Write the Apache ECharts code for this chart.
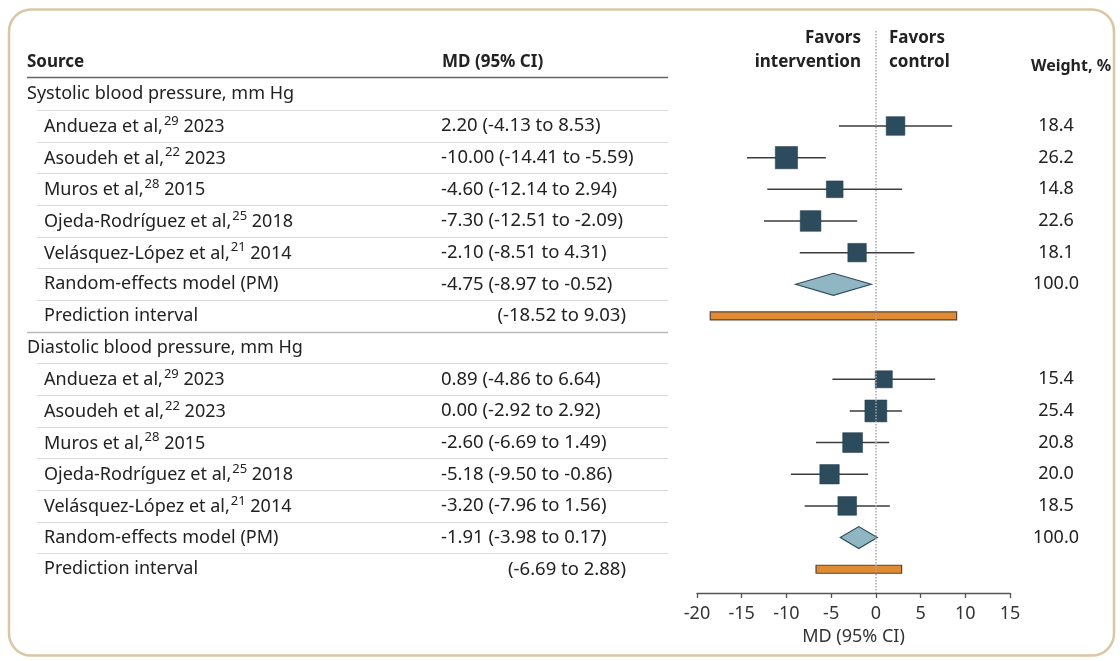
<!DOCTYPE html>
<html><head><meta charset="utf-8">
<script src="https://cdn.jsdelivr.net/npm/echarts@6/dist/echarts.min.js"></script>
<style>html,body{margin:0;padding:0;background:#fff}#c{width:1120px;height:661px}</style>
</head><body><div id="c"></div>
<script>
// ---------- data ----------
const studyNames = ["Andueza et al,", "Asoudeh et al,", "Muros et al,", "Ojeda-Rodríguez et al,", "Velásquez-López et al,"];
const sbpRefs = ["29", "22", "28", "25", "21"];
const dbpRefs = ["29", "22", "28", "25", "21"];
const studyYears = ["2023", "2023", "2015", "2018", "2014"];

const sbpMD = [2.20, -10.00, -4.60, -7.30, -2.10];
const sbpLo = [-4.13, -14.41, -12.14, -12.51, -8.51];
const sbpHi = [8.53, -5.59, 2.94, -2.09, 4.31];
const sbpWeight = [18.4, 26.2, 14.8, 22.6, 18.1];
const sbpPooled = [-4.75, -8.97, -0.52];   // md, lo, hi
const sbpPredInt = [-18.52, 9.03];

const dbpMD = [0.89, 0.00, -2.60, -5.18, -3.20];
const dbpLo = [-4.86, -2.92, -6.69, -9.50, -7.96];
const dbpHi = [6.64, 2.92, 1.49, -0.86, 1.56];
const dbpWeight = [15.4, 25.4, 20.8, 20.0, 18.5];
const dbpPooled = [-1.91, -3.98, 0.17];
const dbpPredInt = [-6.69, 2.88];

const sectionTitles = ["Systolic blood pressure, mm Hg", "Diastolic blood pressure, mm Hg"];
const pooledLabel = "Random-effects model (PM)";
const predLabel = "Prediction interval";
const xTicks = [-20, -15, -10, -5, 0, 5, 10, 15];
const xAxisTitle = "MD (95% CI)";

// ---------- build rows ----------
const rows = [];
function addSection(title, refs, md, lo, hi, w, pooled, pi) {
  rows.push({kind: 'header', label: title});
  for (let i = 0; i < md.length; i++) {
    rows.push({kind: 'study', label: studyNames[i], ref: refs[i], year: studyYears[i],
      md: md[i], lo: lo[i], hi: hi[i], w: w[i]});
  }
  rows.push({kind: 'pooled', label: pooledLabel, md: pooled[0], lo: pooled[1], hi: pooled[2], w: 100});
  rows.push({kind: 'pi', label: predLabel, lo: pi[0], hi: pi[1]});
}
addSection(sectionTitles[0], sbpRefs, sbpMD, sbpLo, sbpHi, sbpWeight, sbpPooled, sbpPredInt);
addSection(sectionTitles[1], dbpRefs, dbpMD, dbpLo, dbpHi, dbpWeight, dbpPooled, dbpPredInt);

const fmt = v => v.toFixed(2);
const FONT = '"Noto Sans", "Open Sans", sans-serif';
const TXT = '#222222';
const SQ = '#2c4c5d';
const FS = 18;      // body text size
const FS_MD = 18.5; // CI column
const FS_H = 17;    // header size

const whiskerData = [], squareData = [], diamondData = [], piData = [], tableData = [];
rows.forEach((r, i) => {
  tableData.push([0, i]);
  if (r.kind === 'study') {
    whiskerData.push([r.lo, i, r.hi]);
    squareData.push([r.md, i, r.w]);
  } else if (r.kind === 'pooled') {
    diamondData.push([r.md, i, r.lo, r.hi]);
  } else if (r.kind === 'pi') {
    piData.push([r.lo, i, r.hi]);
  }
});

const chart = echarts.init(document.getElementById('c'), null, {renderer: 'canvas'});

function tableRender(params, api) {
  const i = api.value(1);
  const r = rows[i];
  const y = api.coord([0, i])[1];
  const children = [];
  const base = {fill: TXT, fontFamily: FONT, fontSize: FS, verticalAlign: 'middle'};
  const mdBase = Object.assign({}, base, {fontSize: FS_MD});
  if (r.kind === 'header') {
    children.push({type: 'text', style: Object.assign({}, base, {x: 27, y: y, text: r.label, align: 'left'})});
  } else if (r.kind === 'study') {
    children.push({type: 'text', style: Object.assign({}, base, {
      x: 44, y: y + 1, align: 'left',
      text: '{a|' + r.label + '}{s|' + r.ref + '}{a| ' + r.year + '}',
      rich: {
        a: {fontFamily: FONT, fontSize: FS, fill: TXT, color: TXT},
        s: {fontFamily: FONT, fontSize: 13, fill: TXT, color: TXT, padding: [0, 0, 12, 1]}
      }
    })});
    children.push({type: 'text', style: Object.assign({}, mdBase, {x: 441, y: y, align: 'left',
      text: fmt(r.md) + ' (' + fmt(r.lo) + ' to ' + fmt(r.hi) + ')'})});
    children.push({type: 'text', style: Object.assign({}, base, {x: 1056, y: y, align: 'center', text: r.w.toFixed(1)})});
  } else if (r.kind === 'pooled') {
    children.push({type: 'text', style: Object.assign({}, base, {x: 44, y: y, align: 'left', text: r.label})});
    children.push({type: 'text', style: Object.assign({}, mdBase, {x: 441, y: y, align: 'left',
      text: fmt(r.md) + ' (' + fmt(r.lo) + ' to ' + fmt(r.hi) + ')'})});
    children.push({type: 'text', style: Object.assign({}, base, {x: 1056, y: y, align: 'center', text: r.w.toFixed(1)})});
  } else if (r.kind === 'pi') {
    children.push({type: 'text', style: Object.assign({}, base, {x: 44, y: y, align: 'left', text: r.label})});
    children.push({type: 'text', style: Object.assign({}, mdBase, {x: 626, y: y, align: 'right',
      text: '(' + fmt(r.lo) + ' to ' + fmt(r.hi) + ')'})});
  }
  // separator below row
  if (i < rows.length - 1) {
    const yNext = api.coord([0, i + 1])[1];
    const ys = Math.round((y + yNext) / 2) + 0.5;
    const sectionBreak = r.kind === 'pi';
    children.push({type: 'line', shape: {x1: sectionBreak ? 27 : 37, y1: ys, x2: 668, y2: ys},
      style: {stroke: sectionBreak ? '#b9b9b9' : '#dcdcdc', lineWidth: sectionBreak ? 1.5 : 1.2}});
  }
  return {type: 'group', children: children};
}

function hText(x, y, text, align, size) {
  return {type: 'text', style: {x: x, y: y, text: text, fontFamily: FONT, fontSize: size || FS_H, fontWeight: 'bold',
    fill: TXT, align: align || 'left', verticalAlign: 'middle'}};
}

const option = {
  animation: false,
  backgroundColor: '#ffffff',
  grid: {left: 697, right: 110, top: 31, bottom: 68, containLabel: false},
  xAxis: {
    type: 'value', min: xTicks[0], max: xTicks[xTicks.length - 1], interval: 5,
    axisLine: {show: true, onZero: false, lineStyle: {color: '#555', width: 1.3}},
    axisTick: {show: true, length: 5, lineStyle: {color: '#555', width: 1.3}},
    axisLabel: {fontFamily: FONT, fontSize: 18, color: '#333', margin: 12},
    splitLine: {show: false},
    name: xAxisTitle, nameLocation: 'middle', nameGap: 35,
    nameTextStyle: {fontFamily: FONT, fontSize: 18, color: '#333'}
  },
  yAxis: {type: 'value', min: -2, max: 15.75, inverse: true, show: false},
  graphic: [
    {type: 'rect', silent: true, shape: {x: 9, y: 9.5, width: 1105, height: 646, r: 22},
      style: {fill: 'none', stroke: '#d9c7a3', lineWidth: 2.5}},
    hText(27, 62, 'Source'),
    hText(442, 62, 'MD (95% CI)'),
    {type: 'line', shape: {x1: 27, y1: 77.5, x2: 668, y2: 77.5}, style: {stroke: '#666', lineWidth: 1.5}},
    hText(861, 38, 'Favors', 'right'),
    hText(861, 62, 'intervention', 'right'),
    hText(889, 38, 'Favors'),
    hText(889, 62, 'control'),
    hText(1031, 66, 'Weight, %', 'left', 16)
  ],
  series: [
    {
      type: 'custom', name: 'table', data: tableData, clip: false, silent: true,
      renderItem: tableRender, z: 1
    },
    {
      type: 'custom', name: 'whiskers', data: whiskerData, silent: true, z: 2,
      renderItem: (p, api) => {
        const a = api.coord([api.value(0), api.value(1)]);
        const b = api.coord([api.value(2), api.value(1)]);
        return {type: 'line', shape: {x1: a[0], y1: a[1], x2: b[0], y2: b[1]},
          style: {stroke: '#3d3d3d', lineWidth: 1.5}};
      },
      markLine: {
        silent: true, symbol: 'none', label: {show: false},
        lineStyle: {type: 'dotted', color: '#a8a8a8', width: 1.5},
        data: [{xAxis: 0}]
      }
    },
    {
      type: 'scatter', name: 'studies', data: squareData, symbol: 'rect', silent: true, z: 3,
      symbolSize: v => 4.35 * Math.sqrt(v[2]),
      itemStyle: {color: SQ, borderColor: '#1e3846', borderWidth: 0.5, opacity: 1}
    },
    {
      type: 'custom', name: 'pooled', data: diamondData, silent: true, z: 3,
      renderItem: (p, api) => {
        const y = api.coord([0, api.value(1)])[1];
        const xm = api.coord([api.value(0), 0])[0];
        const xl = api.coord([api.value(2), 0])[0];
        const xh = api.coord([api.value(3), 0])[0];
        const h = 11;
        return {type: 'polygon', shape: {points: [[xl, y], [xm, y - h], [xh, y], [xm, y + h]]},
          style: {fill: '#8fb6c2', stroke: '#2c4c5d', lineWidth: 1.2}};
      }
    },
    {
      type: 'custom', name: 'predint', data: piData, silent: true, z: 3,
      renderItem: (p, api) => {
        const y = api.coord([0, api.value(1)])[1];
        const xl = api.coord([api.value(0), 0])[0];
        const xh = api.coord([api.value(2), 0])[0];
        return {type: 'rect', shape: {x: xl, y: y - 4, width: xh - xl, height: 8},
          style: {fill: '#e08b34', stroke: '#5b4330', lineWidth: 1.2}};
      }
    }
  ]
};
chart.setOption(option);
</script>
</body></html>
